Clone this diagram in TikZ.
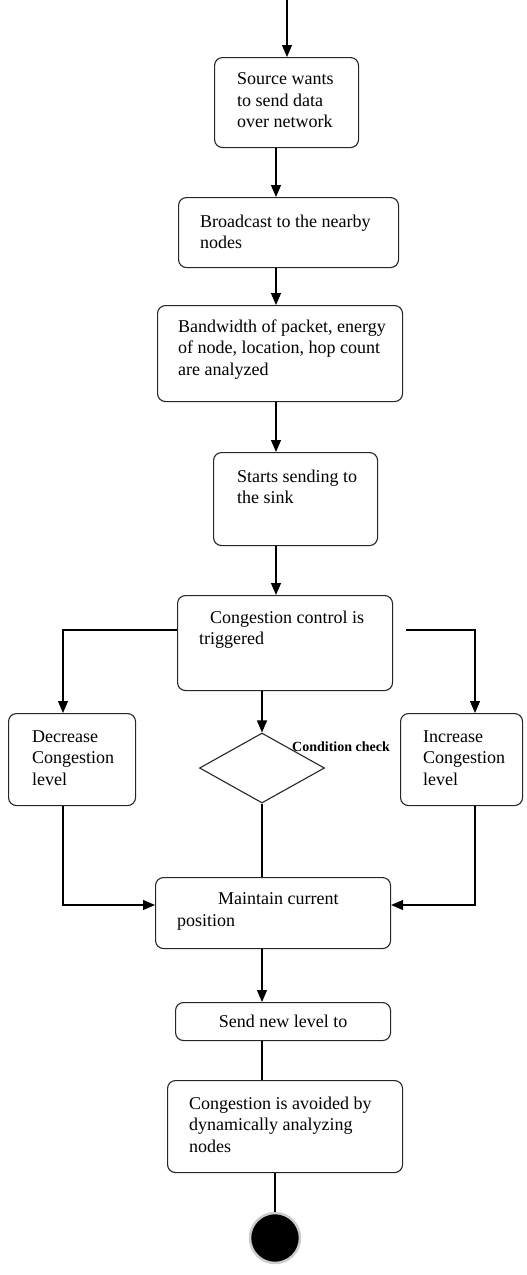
\documentclass[tikz,border=0pt]{standalone}
\usepackage{fontspec}
\setmainfont{Liberation Serif}
\usetikzlibrary{arrows.meta,shapes.geometric}
\begin{document}
\begin{tikzpicture}[x=1pt, y=-1pt,
    box/.style={draw=black!85, line width=1.1pt, rounded corners=8pt, anchor=north west, inner sep=0pt, font=\fontsize{18}{21.5}\selectfont},
    lbl/.style={anchor=north west, align=left, inner sep=0pt, font=\fontsize{18}{21.5}\selectfont},
    arr/.style={line width=1.2pt, -{Triangle[length=12pt, width=10pt]}},
    link/.style={line width=1.2pt},
    stopdot/.style={circle, fill=black, draw=black!20, line width=2.5pt, minimum size=50pt, inner sep=0pt}]
    \useasboundingbox (0,0) rectangle (527,1275);
    % Activity boxes
    \node[box, minimum width=144pt, minimum height=90pt,
      label={[lbl, xshift=23pt, yshift=-15.5pt]north west:{Source wants\\to send data\\over network}}] (src) at (214,57) {};
    \node[box, minimum width=220pt, minimum height=70pt,
      label={[lbl, xshift=22pt, yshift=-17.5pt]north west:{Broadcast to the nearby\\nodes}}] (bcast) at (178,197) {};
    \node[box, minimum width=245pt, minimum height=96pt,
      label={[lbl, xshift=21pt, yshift=-14.5pt]north west:{Bandwidth of packet, energy\\of node, location, hop count\\are analyzed}}] (analyse) at (157,305) {};
    \node[box, minimum width=164pt, minimum height=93pt,
      label={[lbl, xshift=24pt, yshift=-17.5pt]north west:{Starts sending to\\the sink}}] (sink) at (213,452) {};
    \node[box, minimum width=215pt, minimum height=95pt,
      label={[lbl, xshift=22pt, yshift=-15.5pt]north west:{\hspace*{11pt}Congestion control is\\triggered}}] (cc) at (177,595) {};
    \node[box, minimum width=127pt, minimum height=92pt,
      label={[lbl, xshift=24pt, yshift=-17.5pt]north west:{Decrease\\Congestion\\level}}] (dec) at (8,713) {};
    \node[box, minimum width=122pt, minimum height=92pt,
      label={[lbl, xshift=23pt, yshift=-17.5pt]north west:{Increase\\Congestion\\level}}] (inc) at (400,713) {};
    \node[draw=black!85, line width=1.1pt, diamond, minimum width=125pt, minimum height=70pt, inner sep=0pt] (dia) at (262,768) {};
    \node[anchor=west, inner sep=0pt, font=\bfseries\fontsize{14}{16}\selectfont] (cond) at (292,747) {Condition check};
    \node[box, minimum width=235pt, minimum height=71pt,
      label={[lbl, xshift=22pt, yshift=-15.5pt]north west:{\hspace*{41pt}Maintain current\\position}}] (maint) at (155,877) {};
    \node[box, minimum width=215pt, minimum height=38pt] (send) at (175,1002) {Send new level to};
    \node[box, minimum width=235pt, minimum height=92pt,
      label={[lbl, xshift=22pt, yshift=-16.5pt]north west:{Congestion is avoided by\\dynamically analyzing\\nodes}}] (fin) at (167,1080) {};
    \node[stopdot] (stop) at (275,1238) {};

    % Helper coordinates
    \coordinate (start) at (287,0);
    \coordinate (spine) at (276,0);
    \coordinate (split) at (0,630);
    \coordinate (join) at (0,905);
    \coordinate (lx) at (63,0);
    \coordinate (rx) at (475,0);
    \coordinate (rgap) at ([xshift=13pt]cc.east);

    % Main flow
    \draw[arr] (start) -- (start |- src.north);
    \draw[arr] (src.south -| spine) -- (spine |- bcast.north);
    \draw[arr] (bcast.south -| spine) -- (spine |- analyse.north);
    \draw[arr] (analyse.south -| spine) -- (spine |- sink.north);
    \draw[arr] (sink.south -| spine) -- (spine |- cc.north);

    % Branches
    \draw[arr] (cc.west |- split) -| (lx |- dec.north);
    \draw[arr] (rgap |- split) -| (rx |- inc.north);
    \draw[arr] (cc.south -| dia) -- (dia.north);
    \draw[link] (dia.south) -- (dia.south |- maint.north);
    \draw[arr] (lx |- dec.south) |- (maint.west |- join);
    \draw[arr] (rx |- inc.south) |- (maint.east |- join);

    % Tail
    \draw[arr] (maint.south -| dia) -- (dia |- send.north);
    \draw[link] (send.south -| dia) -- (dia |- fin.north);
    \draw[link] (fin.south -| stop) -- (stop.north);
\end{tikzpicture}
\end{document}
